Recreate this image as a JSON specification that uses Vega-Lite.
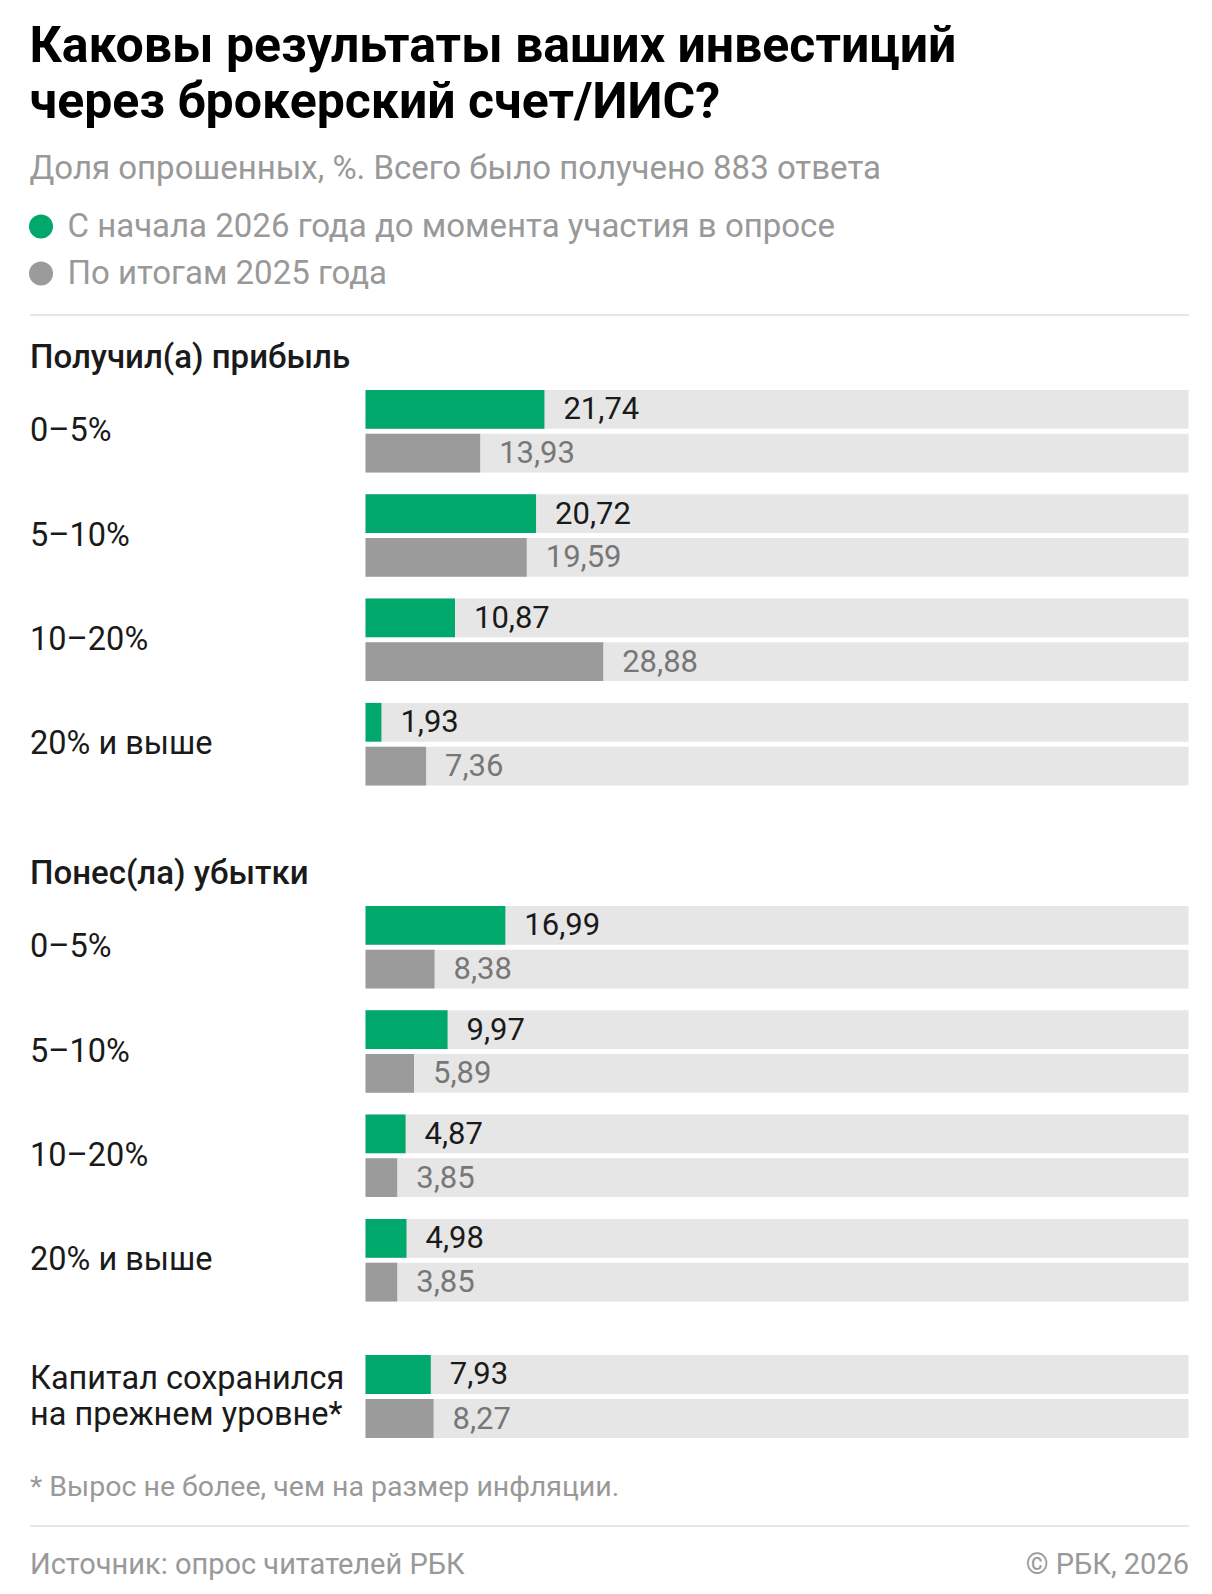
{
  "$schema": "https://vega.github.io/schema/vega-lite/v6.json",
  "background": "#ffffff",
  "padding": {"left": 29.5, "right": 24, "top": 22, "bottom": 8},
  "config": {
    "font": "Roboto",
    "view": {"stroke": null},
    "locale": {"number": {"decimal": ",", "thousands": " ", "grouping": [3], "currency": ["", ""]}}
  },
  "title": {
    "text": ["Каковы результаты ваших инвестиций", "через брокерский счет/ИИС?"],
    "subtitle": "Доля опрошенных, %. Всего было получено 883 ответа",
    "anchor": "start",
    "font": "Roboto",
    "fontSize": 50,
    "fontWeight": "bold",
    "lineHeight": 56,
    "color": "#000000",
    "subtitleFont": "Roboto",
    "subtitleFontSize": 33,
    "subtitleColor": "#999999",
    "subtitlePadding": 24.5,
    "offset": 24.5
  },
  "data": {
    "values": [
      {"section": "profit", "group": "0–5%", "series": "С начала 2026 года до момента участия в опросе", "value": 21.74},
      {"section": "profit", "group": "0–5%", "series": "По итогам 2025 года", "value": 13.93},
      {"section": "profit", "group": "5–10%", "series": "С начала 2026 года до момента участия в опросе", "value": 20.72},
      {"section": "profit", "group": "5–10%", "series": "По итогам 2025 года", "value": 19.59},
      {"section": "profit", "group": "10–20%", "series": "С начала 2026 года до момента участия в опросе", "value": 10.87},
      {"section": "profit", "group": "10–20%", "series": "По итогам 2025 года", "value": 28.88},
      {"section": "profit", "group": "20% и выше", "series": "С начала 2026 года до момента участия в опросе", "value": 1.93},
      {"section": "profit", "group": "20% и выше", "series": "По итогам 2025 года", "value": 7.36},
      {"section": "loss", "group": "0–5%", "series": "С начала 2026 года до момента участия в опросе", "value": 16.99},
      {"section": "loss", "group": "0–5%", "series": "По итогам 2025 года", "value": 8.38},
      {"section": "loss", "group": "5–10%", "series": "С начала 2026 года до момента участия в опросе", "value": 9.97},
      {"section": "loss", "group": "5–10%", "series": "По итогам 2025 года", "value": 5.89},
      {"section": "loss", "group": "10–20%", "series": "С начала 2026 года до момента участия в опросе", "value": 4.87},
      {"section": "loss", "group": "10–20%", "series": "По итогам 2025 года", "value": 3.85},
      {"section": "loss", "group": "20% и выше", "series": "С начала 2026 года до момента участия в опросе", "value": 4.98},
      {"section": "loss", "group": "20% и выше", "series": "По итогам 2025 года", "value": 3.85},
      {"section": "capital", "group": "Капитал сохранился на прежнем уровне*", "series": "С начала 2026 года до момента участия в опросе", "value": 7.93},
      {"section": "capital", "group": "Капитал сохранился на прежнем уровне*", "series": "По итогам 2025 года", "value": 8.27}
    ]
  },
  "spacing": 53,
  "resolve": {"scale": {"x": "independent", "y": "independent", "yOffset": "independent"}},
  "vconcat": [
    {
      "width": 1159,
      "height": 395.4,
      "transform": [{"filter": "datum.section == 'profit'"}],
      "encoding": {
        "x": {
          "field": "value", "type": "quantitative",
          "scale": {"domain": [-40.83, 100], "nice": false, "zero": false},
          "axis": {"orient": "top", "offset": 75.4, "domain": true, "domainColor": "#e6e6e6", "domainWidth": 2, "ticks": false, "labels": false, "grid": false,
            "title": "Получил(а) прибыль", "titleX": 0, "titleY": 53, "titleAlign": "left", "titleAnchor": "start", "titleBaseline": "alphabetic",
            "titleFontSize": 33, "titleFontWeight": 500, "titleColor": "#1a1a1a"}
        },
        "y": {
          "field": "group", "type": "nominal", "sort": null,
          "scale": {"paddingInner": 0.209, "paddingOuter": 0},
          "axis": {"title": null, "domain": false, "ticks": false, "tickSize": 0, "grid": false, "labelPadding": 0, "labelAlign": "left", "labelFontSize": 32.5, "labelColor": "#1a1a1a", "labelLimit": 500}
        },
        "yOffset": {"field": "series", "type": "nominal", "sort": null, "scale": {"paddingInner": 0.114, "paddingOuter": 0}}
      },
      "layer": [
        {
          "mark": {"type": "bar", "color": "#e6e6e6"},
          "encoding": {
            "x": {
              "datum": 100, "type": "quantitative",
              "scale": {"domain": [-40.83, 100], "nice": false, "zero": false},
              "axis": {"orient": "top", "offset": 75.4, "domain": true, "domainColor": "#e6e6e6", "domainWidth": 2, "ticks": false, "labels": false, "grid": false,
                "title": "Получил(а) прибыль", "titleX": 0, "titleY": 53, "titleAlign": "left", "titleAnchor": "start", "titleBaseline": "alphabetic",
                "titleFontSize": 33, "titleFontWeight": 500, "titleColor": "#1a1a1a"}
            },
            "x2": {"datum": 0}
          }
        },
        {
          "mark": "bar",
          "encoding": {
            "x2": {"datum": 0},
            "color": {
              "field": "series", "type": "nominal", "sort": null,
              "scale": {"domain": ["С начала 2026 года до момента участия в опросе", "По итогам 2025 года"], "range": ["#00a86b", "#9b9b9b"]},
              "legend": {"orient": "top", "direction": "vertical", "title": null, "symbolType": "circle", "symbolSize": 576, "symbolStrokeWidth": 0, "symbolOpacity": 1, "symbolOffset": -5,
                "labelFontSize": 33, "labelColor": "#999999", "labelOffset": 10, "labelLimit": 1100, "rowPadding": 13, "offset": 23, "padding": 0}
            }
          }
        },
        {
          "mark": {"type": "text", "align": "left", "baseline": "middle", "dx": 19, "dy": 1, "fontSize": 31},
          "encoding": {
            "text": {"field": "value", "type": "quantitative", "format": ".2f"},
            "color": {"condition": {"test": "datum.series == 'По итогам 2025 года'", "value": "#777777"}, "value": "#1a1a1a"}
          }
        }
      ]
    },
    {
      "width": 1159,
      "height": 395.4,
      "transform": [{"filter": "datum.section == 'loss'"}],
      "encoding": {
        "x": {
          "field": "value", "type": "quantitative",
          "scale": {"domain": [-40.83, 100], "nice": false, "zero": false},
          "axis": {"orient": "top", "offset": 67, "domain": true, "domainColor": "#ffffff", "domainWidth": 2, "ticks": false, "labels": false, "grid": false,
            "title": "Понес(ла) убытки", "titleX": 0, "titleY": 44.2, "titleAlign": "left", "titleAnchor": "start", "titleBaseline": "alphabetic",
            "titleFontSize": 33, "titleFontWeight": 500, "titleColor": "#1a1a1a"}
        },
        "y": {
          "field": "group", "type": "nominal", "sort": null,
          "scale": {"paddingInner": 0.209, "paddingOuter": 0},
          "axis": {"title": null, "domain": false, "ticks": false, "tickSize": 0, "grid": false, "labelPadding": 0, "labelAlign": "left", "labelFontSize": 32.5, "labelColor": "#1a1a1a", "labelLimit": 500}
        },
        "yOffset": {"field": "series", "type": "nominal", "sort": null, "scale": {"paddingInner": 0.114, "paddingOuter": 0}}
      },
      "layer": [
        {
          "mark": {"type": "bar", "color": "#e6e6e6"},
          "encoding": {
            "x": {
              "datum": 100, "type": "quantitative",
              "scale": {"domain": [-40.83, 100], "nice": false, "zero": false},
              "axis": {"orient": "top", "offset": 67, "domain": true, "domainColor": "#ffffff", "domainWidth": 2, "ticks": false, "labels": false, "grid": false,
                "title": "Понес(ла) убытки", "titleX": 0, "titleY": 44.2, "titleAlign": "left", "titleAnchor": "start", "titleBaseline": "alphabetic",
                "titleFontSize": 33, "titleFontWeight": 500, "titleColor": "#1a1a1a"}
            },
            "x2": {"datum": 0}
          }
        },
        {
          "mark": "bar",
          "encoding": {
            "x2": {"datum": 0},
            "color": {"field": "series", "type": "nominal", "sort": null, "legend": null}
          }
        },
        {
          "mark": {"type": "text", "align": "left", "baseline": "middle", "dx": 19, "dy": 1, "fontSize": 31},
          "encoding": {
            "text": {"field": "value", "type": "quantitative", "format": ".2f"},
            "color": {"condition": {"test": "datum.series == 'По итогам 2025 года'", "value": "#777777"}, "value": "#1a1a1a"}
          }
        }
      ]
    },
    {
      "width": 1159,
      "height": 83,
      "transform": [{"filter": "datum.section == 'capital'"}],
      "encoding": {
        "x": {
          "field": "value", "type": "quantitative",
          "scale": {"domain": [-40.83, 100], "nice": false, "zero": false},
          "axis": {"orient": "bottom", "offset": 87.5, "domain": true, "domainColor": "#e6e6e6", "domainWidth": 2, "ticks": false, "tickSize": 0, "grid": false,
            "values": [-40.83, 100],
            "labelExpr": "datum.value < 0 ? 'Источник: опрос читателей РБК' : '© РБК, 2026'",
            "labelFlush": true, "labelOverlap": false, "labelPadding": 48, "labelBaseline": "alphabetic", "labelFontSize": 29, "labelColor": "#999999", "labelLimit": 800,
            "title": "* Вырос не более, чем на размер инфляции.", "titleX": 0, "titleY": -30.5, "titleAlign": "left", "titleAnchor": "start", "titleBaseline": "alphabetic",
            "titleFontSize": 28.5, "titleFontWeight": "normal", "titleColor": "#999999"}
        },
        "y": {
          "field": "group", "type": "nominal", "sort": null,
          "scale": {"paddingInner": 0.209, "paddingOuter": 0},
          "axis": {"title": null, "domain": false, "ticks": false, "tickSize": 0, "grid": false, "labelPadding": 0, "labelAlign": "left", "labelFontSize": 32.5, "labelColor": "#1a1a1a", "labelLimit": 500, "labelLineHeight": 36, "labelOffset": -18,
            "labelExpr": "['Капитал сохранился', 'на прежнем уровне*']"}
        },
        "yOffset": {"field": "series", "type": "nominal", "sort": null, "scale": {"paddingInner": 0.114, "paddingOuter": 0}}
      },
      "layer": [
        {
          "mark": {"type": "bar", "color": "#e6e6e6"},
          "encoding": {
            "x": {
              "datum": 100, "type": "quantitative",
              "scale": {"domain": [-40.83, 100], "nice": false, "zero": false},
              "axis": {"orient": "bottom", "offset": 87.5, "domain": true, "domainColor": "#e6e6e6", "domainWidth": 2, "ticks": false, "tickSize": 0, "grid": false,
                "values": [-40.83, 100],
                "labelExpr": "datum.value < 0 ? 'Источник: опрос читателей РБК' : '© РБК, 2026'",
                "labelFlush": true, "labelOverlap": false, "labelPadding": 48, "labelBaseline": "alphabetic", "labelFontSize": 29, "labelColor": "#999999", "labelLimit": 800,
                "title": "* Вырос не более, чем на размер инфляции.", "titleX": 0, "titleY": -30.5, "titleAlign": "left", "titleAnchor": "start", "titleBaseline": "alphabetic",
                "titleFontSize": 28.5, "titleFontWeight": "normal", "titleColor": "#999999"}
            },
            "x2": {"datum": 0}
          }
        },
        {
          "mark": "bar",
          "encoding": {
            "x2": {"datum": 0},
            "color": {"field": "series", "type": "nominal", "sort": null, "legend": null}
          }
        },
        {
          "mark": {"type": "text", "align": "left", "baseline": "middle", "dx": 19, "dy": 1, "fontSize": 31},
          "encoding": {
            "text": {"field": "value", "type": "quantitative", "format": ".2f"},
            "color": {"condition": {"test": "datum.series == 'По итогам 2025 года'", "value": "#777777"}, "value": "#1a1a1a"}
          }
        }
      ]
    }
  ]
}
